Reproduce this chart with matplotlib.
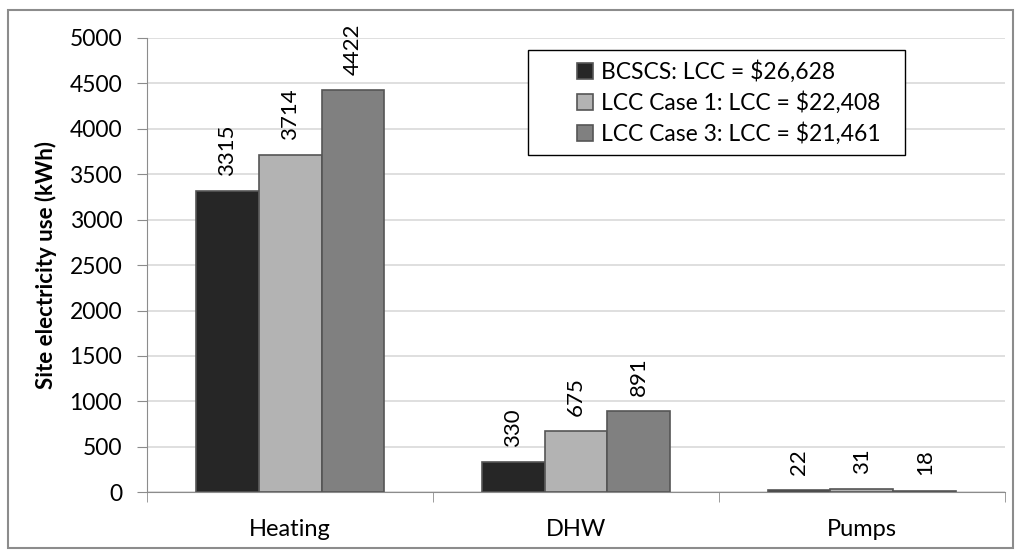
import matplotlib.pyplot as plt
import numpy as np
from matplotlib.patches import Rectangle

plt.rcParams['font.family'] = ['Lato', 'DejaVu Sans']

categories = ['Heating', 'DHW', 'Pumps']
series_names = ['BCSCS: LCC = $26,628',
                'LCC Case 1: LCC = $22,408',
                'LCC Case 3: LCC = $21,461']
bcscs = [3315, 330, 22]
case1 = [3714, 675, 31]
case3 = [4422, 891, 18]
colors = ['#262626', '#b3b3b3', '#808080']

fig = plt.figure(figsize=(10.15, 5.5), dpi=100)
ax = fig.add_axes([0.145, 0.105, 0.845, 0.826])

# Outer frame around the whole chart
fig.patches.append(Rectangle((0.008, 0.004), 0.99, 0.978,
                             transform=fig.transFigure, fill=False,
                             edgecolor='#8c8c8c', linewidth=1.5))

x = np.arange(len(categories))
width = 0.22
for i, (vals, name, col) in enumerate(zip([bcscs, case1, case3],
                                          series_names, colors)):
    pos = x + (i - 1) * width
    bars = ax.bar(pos, vals, width, color=col, edgecolor='#555555',
                  linewidth=1.2, label=name, zorder=3)
    for b, v in zip(bars, vals):
        ax.annotate(str(v), (b.get_x() + b.get_width() / 2, v),
                    xytext=(0, 11), textcoords='offset points',
                    rotation=90, ha='center', va='bottom', fontsize=16)

ax.set_xlim(-0.5, 2.5)
ax.set_ylim(0, 5000)
ax.set_yticks(np.arange(0, 5001, 500))
ax.set_xticks(x)
ax.set_xticklabels(categories, fontsize=17)
ax.set_xticks([-0.5, 0.5, 1.5, 2.5], minor=True)
ax.tick_params(axis='x', which='major', length=0, pad=19)
ax.tick_params(axis='x', which='minor', length=7, color='#8c8c8c')
ax.tick_params(axis='y', labelsize=16.5, length=7, color='#8c8c8c', pad=11)
ax.yaxis.grid(True, color='#d9d9d9', linewidth=1.2, zorder=0)
ax.set_axisbelow(True)
for s in ['top', 'right']:
    ax.spines[s].set_visible(False)
for s in ['left', 'bottom']:
    ax.spines[s].set_color('#8c8c8c')
ax.set_ylabel('Site electricity use (kWh)', fontsize=16, fontweight='bold',
              labelpad=9)

# Legend box drawn separately so the entries can sit right of centre
ax.add_patch(Rectangle((0.444, 0.742), 0.44, 0.232, transform=ax.transAxes,
                       fill=True, facecolor='white', edgecolor='black',
                       linewidth=1.0, zorder=4, clip_on=False))
leg = ax.legend(loc='upper left', bbox_to_anchor=(0.501, 0.95),
                fontsize=16.5, frameon=False, borderpad=0, borderaxespad=0,
                handlelength=0.7, handleheight=0.7, handletextpad=0.35,
                labelspacing=0.35)
leg.set_zorder(5)

fig.savefig('out.png', dpi=100)
